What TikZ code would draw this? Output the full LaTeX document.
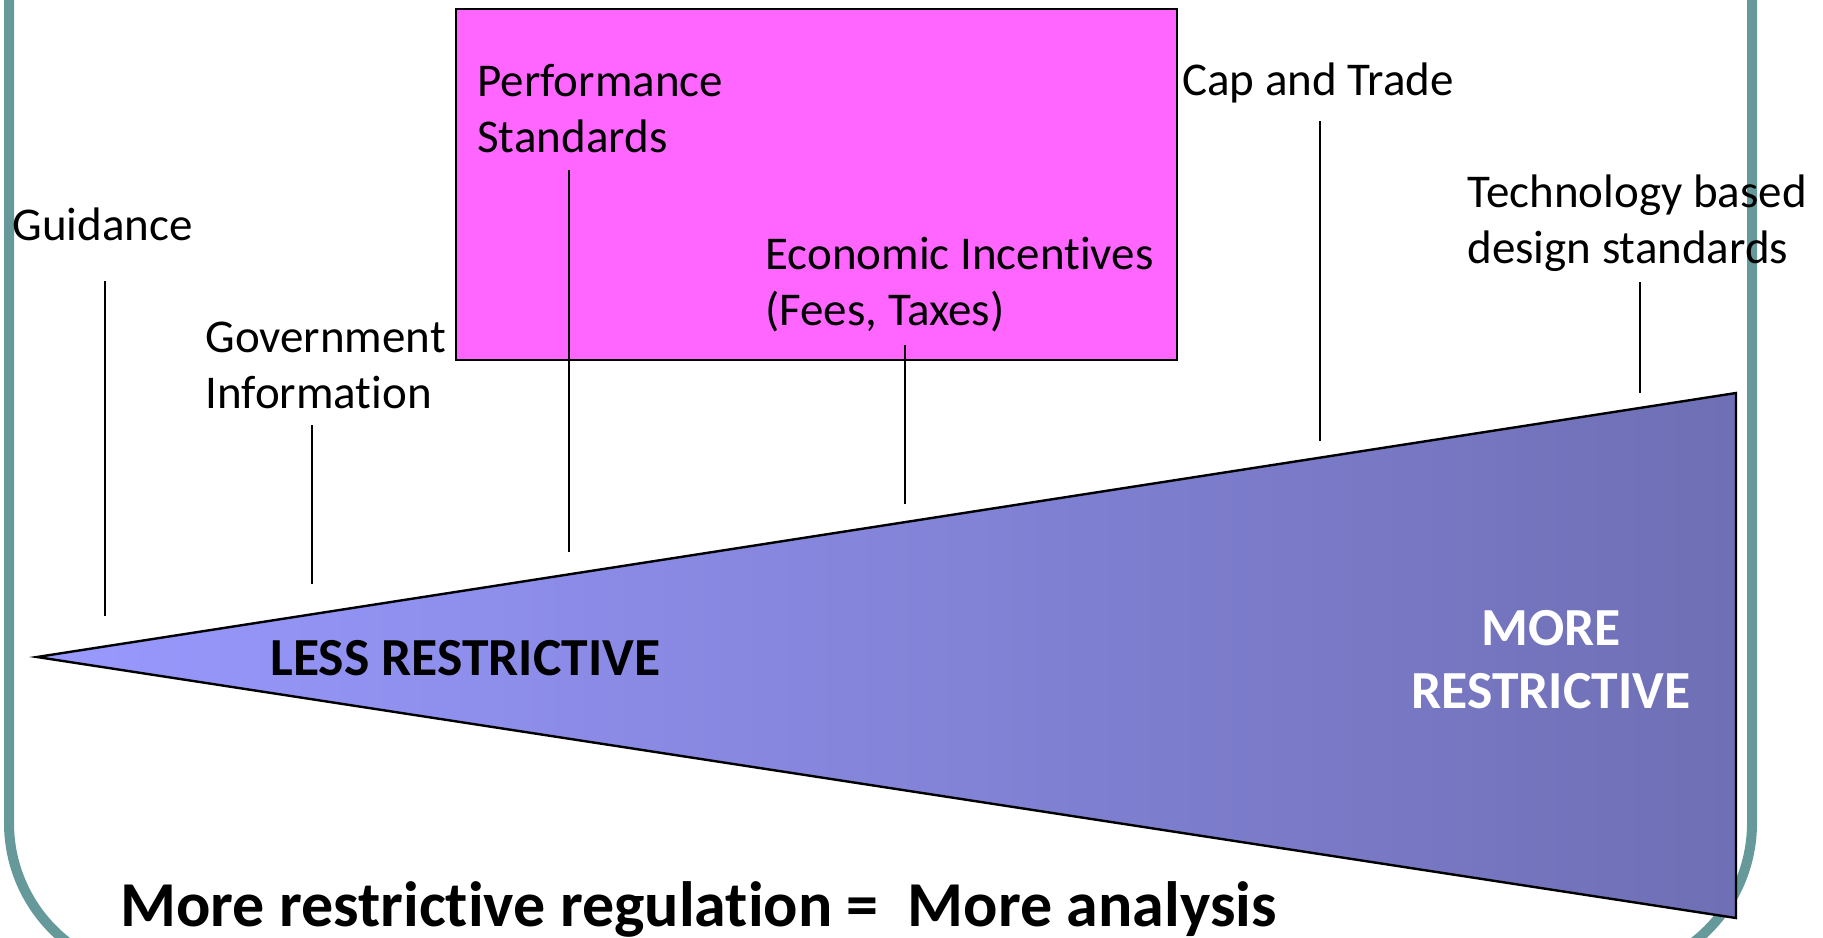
\documentclass[tikz,border=0pt]{standalone}
\usepackage{fontspec}
\setmainfont[Ligatures={NoCommon}]{Carlito}
\definecolor{framecol}{RGB}{102,153,153}
\definecolor{magbox}{RGB}{255,102,255}
\definecolor{lesscol}{RGB}{153,153,255}
\definecolor{morecol}{RGB}{111,111,181}
\begin{document}
\begin{tikzpicture}[x=0.5pt,y=-0.5pt]
\tikzstyle{policy}=[anchor=base west, inner sep=0pt, align=left, font=\fontsize{23.5}{28}\selectfont]
\tikzstyle{bigword}=[inner sep=0pt, font=\bfseries\fontsize{26.8}{31.5}\selectfont]
\tikzstyle{leader}=[line width=1pt]

\useasboundingbox (0,0) rectangle (1823,937);
\clip (0,0) rectangle (1823,937);

% frame, only its sides and lower corners show
\draw[framecol, line width=5pt, rounded corners=75.5pt] (9,-200) rectangle (1752,974);

\coordinate (tip) at (37,657);
\coordinate (top_r) at (1736,393);
\coordinate (bot_r) at (1736,918);

\coordinate (guidance_a) at (105,281);
\coordinate (guidance_b) at (105,616);
\coordinate (govinfo_a) at (312,425);
\coordinate (govinfo_b) at (312,584);
\coordinate (perf_a) at (569,170);
\coordinate (perf_b) at (569,552);
\coordinate (econ_a) at (905,345);
\coordinate (econ_b) at (905,504);
\coordinate (capntrade_a) at (1320,121);
\coordinate (capntrade_b) at (1320,441);
\coordinate (techstd_a) at (1640,282);
\coordinate (techstd_b) at (1640,393);

\draw[fill=magbox, line width=1.2pt] (456,9) rectangle (1177,360);

\path[draw, line width=1.2pt, left color=lesscol, right color=morecol] (tip) -- (top_r) -- (bot_r) -- cycle;

% two-line texts sit on the baseline of their last line
\node[policy] (guidance) at (12,240) {Guidance};
\node[policy] (govinfo) at (205,408) {Government\\Information};
\node[policy] (perf) at (477,152) {Performance\\Standards};
\node[policy] (econ) at (765,325) {Economic Incentives\\(Fees, Taxes)};
\node[policy] (capntrade) at (1182,95) {Cap and Trade};
\node[policy] (techstd) at (1467,263) {Technology based\\design standards};

\node[bigword, anchor=base west] (less) at (270,675) {LESS RESTRICTIVE};
\node[bigword, white, align=center, anchor=base] (more) at (1551,708) {MORE\\RESTRICTIVE};

\node[anchor=base west, inner sep=0pt, font=\bfseries\fontsize{32}{37}\selectfont] (summary) at (120,926) {More restrictive regulation = \ More analysis};

\draw[leader] (guidance_a) -- (guidance_b);
\draw[leader] (govinfo_a) -- (govinfo_b);
\draw[leader] (perf_a) -- (perf_b);
\draw[leader] (econ_a) -- (econ_b);
\draw[leader] (capntrade_a) -- (capntrade_b);
\draw[leader] (techstd_a) -- (techstd_b);

\end{tikzpicture}
\end{document}
